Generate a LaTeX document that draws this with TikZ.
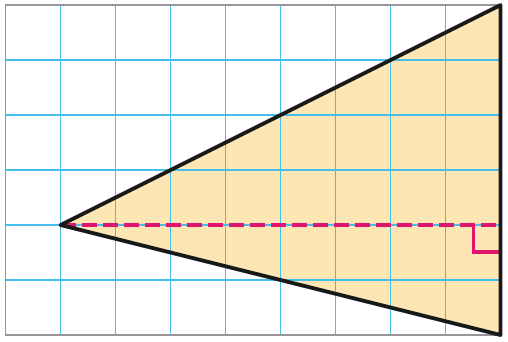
\documentclass[tikz,border=0pt]{standalone}
\definecolor{gridblue}{RGB}{70,190,235}
\definecolor{peach}{RGB}{254,230,180}
\definecolor{magentaline}{RGB}{225,20,110}
\definecolor{framegray}{RGB}{150,150,150}
\tikzset{
  gridline/.style={draw=gridblue, line width=1.8pt},
  frameline/.style={draw=framegray, line width=1.8pt},
  sideline/.style={draw=black!90, line width=3.8pt, line join=round},
  heightline/.style={draw=magentaline, line width=4pt, dash pattern=on 15pt off 6pt},
  rightmark/.style={draw=magentaline, line width=3.5pt}
}
\begin{document}
\begin{tikzpicture}[x=55pt,y=55pt]
\useasboundingbox (-5.5pt,-6pt) rectangle (502.5pt,335pt);
\coordinate (A) at (1,2);
\coordinate (B) at (9,6);
\coordinate (C) at (9,0);
\coordinate (H) at (9,2);
\fill[peach] (A) -- (B) -- (C) -- cycle;
\foreach \x in {1,...,8} \draw[gridline] (\x,0) -- (\x,6);
\foreach \y in {1,...,5} \draw[gridline] (0,\y) -- (9,\y);
\draw[frameline] (0,0) rectangle (9,6);
\draw[heightline] (A) -- (H);
\draw[rightmark] ([xshift=-27pt]H) -- ([xshift=-27pt,yshift=-27pt]H) -- ([yshift=-27pt]H);
\draw[sideline] (A) -- (B) -- (C) -- cycle;
\end{tikzpicture}
\end{document}
